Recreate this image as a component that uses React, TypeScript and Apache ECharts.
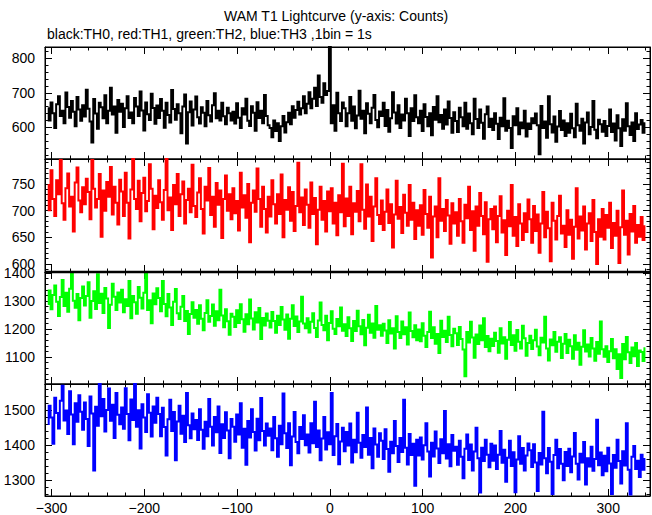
import React, { useEffect, useRef } from "react";
import * as echarts from "echarts";

// time bins (seconds from trigger), 2 s sampling of the 1 s lightcurve
const T_START = -304;
const T_STEP = 2;

// TH0 (black)
const th0 = [
  655, 620, 672, 641, 598, 667, 690, 633, 648, 612, 701, 659, 628, 676, 645, 603, 688, 652, 619, 664,
  631, 709, 654, 617, 556, 682, 640, 596, 671, 658, 626, 693, 612, 648, 715, 637, 660, 584, 679, 645,
  668, 601, 655, 690, 627, 643, 612, 685, 660, 633, 704, 649, 591, 672, 638, 621, 697, 656, 610, 663,
  627, 682, 648, 599, 671, 636, 614, 708, 653, 622, 667, 641, 583, 660, 695, 553, 644, 675, 605, 652,
  689, 629, 611, 658, 642, 603, 676, 635, 617, 664, 699, 626, 648, 620, 671, 632, 609, 657, 641, 620,
  645, 611, 670, 628, 598, 655, 637, 683, 619, 604, 661, 642, 590, 673, 627, 648, 612, 694, 633, 606,
  598, 571, 620, 589, 612, 560, 603, 633, 585, 615, 642, 609, 661, 628, 650, 674, 637, 655, 690, 641,
  668, 702, 655, 683, 715, 662, 750, 688, 671, 728, 694, 705, 833, 612, 664, 590, 700, 641, 618, 672,
  655, 603, 641, 688, 619, 660, 597, 634, 706, 625, 648, 583, 670, 639, 612, 657, 694, 621, 600, 646,
  633, 671, 604, 650, 587, 626, 702, 643, 611, 664, 598, 637, 620, 683, 641, 575, 655, 618, 693, 629,
  612, 648, 589, 667, 630, 603, 641, 577, 659, 622, 690, 615, 636, 596, 652, 608, 675, 627, 584, 644,
  618, 586, 657, 629, 603, 671, 596, 640, 612, 580, 683, 624, 598, 652, 613, 567, 638, 660, 601, 625,
  592, 641, 610, 566, 628, 603, 684, 590, 619, 598, 540, 632, 606, 655, 580, 614, 597, 648, 573, 611,
  595, 626, 612, 640, 606, 522, 662, 598, 617, 570, 690, 609, 585, 631, 558, 602, 647, 592, 620, 575,
  612, 584, 639, 597, 571, 668, 606, 590, 625, 553, 614, 643, 580, 601, 676, 593, 568, 622, 609, 587,
  618, 575, 604, 652, 586, 611, 562, 635, 597, 546, 623, 590, 670, 603, 578, 614, 560, 641, 595, 608,
  621, 584, 612,
];

// TH1 (red)
const th1 = [
  748, 701, 776, 722, 690, 757, 731, 795, 714, 683, 742, 770, 708, 726, 661, 753, 781, 719, 697, 744,
  712, 760, 735, 684, 795, 741, 706, 722, 769, 651, 738, 700, 754, 726, 782, 693, 745, 715, 674, 758,
  736, 690, 771, 715, 648, 740, 797, 722, 703, 756, 680, 733, 762, 699, 718, 787, 741, 665, 728, 705,
  757, 716, 683, 739, 797, 701, 725, 664, 748, 712, 769, 690, 731, 755, 676, 720, 741, 697, 786, 709,
  688, 734, 761, 703, 657, 745, 719, 780, 692, 726, 670, 752, 711, 738, 649, 722, 766, 700, 731, 684,
  742, 695, 718, 663, 771, 706, 729, 687, 750, 641, 715, 738, 698, 779, 722, 670, 745, 703, 659, 726,
  689, 757, 712, 676, 731, 694, 768, 650, 720, 702, 744, 681, 735, 662, 709, 790, 697, 725, 673, 740,
  711, 668, 753, 694, 724, 637, 702, 745, 683, 718, 661, 736, 699, 742, 676, 715, 654, 729, 697, 788,
  671, 723, 690, 745, 656, 714, 698, 737, 680, 787, 702, 666, 749, 689, 726, 643, 708, 761, 692, 675,
  719, 664, 698, 740, 677, 712, 631, 693, 756, 685, 707, 658, 730, 696, 672, 748, 683, 715, 647, 701,
  672, 710, 655, 739, 694, 668, 726, 612, 689, 708, 650, 761, 681, 703, 662, 720, 691, 638, 714, 676,
  697, 653, 722, 680, 640, 711, 686, 745, 664, 699, 625, 708, 672, 733, 690, 656, 716, 604, 684, 703,
  665, 708, 641, 690, 727, 659, 682, 617, 700, 671, 748, 653, 688, 634, 712, 676, 645, 695, 660, 721,
  684, 640, 709, 662, 693, 621, 676, 735, 650, 698, 667, 605, 715, 681, 646, 690, 728, 657, 672, 632,
  701, 655, 683, 610, 670, 742, 648, 689, 663, 708, 627, 676, 695, 643, 720, 660, 600, 684, 651, 703,
  646, 692, 668, 715, 630, 677, 653, 700, 602, 669, 738, 655, 681, 618, 694, 661, 709, 640, 673, 651,
  688, 645, 671,
];

// TH2 (green)
const th2 = [
  1290, 1338, 1271, 1322, 1356, 1298, 1247, 1315, 1375, 1283, 1330, 1262, 1344, 1399, 1301, 1276, 1325, 1232, 1311, 1352,
  1284, 1318, 1367, 1241, 1300, 1335, 1272, 1396, 1293, 1326, 1258, 1347, 1309, 1204, 1287, 1362, 1316, 1268, 1331, 1295,
  1341, 1260, 1307, 1283, 1372, 1239, 1318, 1296, 1255, 1350, 1312, 1274, 1330, 1399, 1268, 1303, 1221, 1327, 1289, 1346,
  1311, 1264, 1372, 1290, 1246, 1325, 1277, 1215, 1298, 1343, 1257, 1236, 1280, 1318, 1229, 1265, 1183, 1254, 1296, 1241,
  1268, 1219, 1285, 1237, 1196, 1258, 1303, 1226, 1247, 1288, 1212, 1264, 1232, 1341, 1249, 1207, 1271, 1228, 1180, 1255,
  1244, 1208, 1267, 1222, 1289, 1235, 1191, 1253, 1217, 1306, 1238, 1199, 1260, 1224, 1275, 1165, 1240, 1213, 1256, 1230,
  1206, 1261, 1229, 1187, 1248, 1215, 1279, 1234, 1198, 1252, 1166, 1237, 1285, 1211, 1245, 1190, 1227, 1316, 1220, 1203,
  1239, 1188, 1226, 1257, 1204, 1172, 1231, 1295, 1215, 1196, 1248, 1160, 1222, 1264, 1201, 1183, 1236, 1210, 1277, 1194,
  1217, 1175, 1242, 1203, 1158, 1229, 1193, 1266, 1210, 1182, 1233, 1142, 1205, 1251, 1187, 1220, 1169, 1283, 1198, 1214,
  1176, 1219, 1195, 1150, 1232, 1184, 1203, 1131, 1246, 1190, 1168, 1227, 1182, 1207, 1145, 1259, 1193, 1171, 1214, 1160,
  1199, 1157, 1221, 1176, 1136, 1190, 1262, 1168, 1207, 1148, 1183, 1115, 1230, 1172, 1194, 1154, 1244, 1179, 1139, 1201,
  1185, 1143, 1208, 1165, 1127, 1032, 1190, 1152, 1226, 1170, 1098, 1181, 1147, 1213, 1160, 1239, 1136, 1175, 1121, 1166,
  1140, 1187, 1158, 1116, 1203, 1149, 1171, 1094, 1162, 1225, 1143, 1178, 1123, 1197, 1155, 1131, 1212, 1167, 1105, 1150,
  1176, 1129, 1160, 1198, 1138, 1107, 1169, 1152, 1244, 1131, 1088, 1163, 1142, 1190, 1119, 1155, 1171, 1097, 1148, 1183,
  1115, 1162, 1139, 1094, 1178, 1126, 1151, 1073, 1137, 1196, 1120, 1145, 1102, 1168, 1131, 1087, 1154, 1112, 1227, 1128,
  1101, 1139, 1083, 1121, 1165, 1096, 1128, 1058, 1110, 1025, 1147, 1092, 1172, 1117, 1079, 1134, 1103, 1150, 1068, 1124,
  1118, 1086, 1132,
];

// TH3 (blue)
const th3 = [
  1460, 1512, 1478, 1403, 1535, 1491, 1447, 1526, 1569, 1470, 1498, 1431, 1553, 1487, 1402, 1519, 1466, 1542, 1495, 1443,
  1521, 1474, 1397, 1538, 1490, 1327, 1509, 1455, 1574, 1482, 1531, 1438, 1500, 1561, 1469, 1515, 1420, 1548, 1486, 1459,
  1507, 1446, 1562, 1488, 1413, 1530, 1471, 1574, 1452, 1499, 1390, 1516, 1478, 1437, 1545, 1492, 1424, 1510, 1463, 1535,
  1488, 1425, 1506, 1451, 1370, 1473, 1529, 1440, 1494, 1356, 1467, 1512, 1432, 1483, 1408, 1548, 1456, 1419, 1490, 1445,
  1471, 1414, 1502, 1443, 1389, 1466, 1425, 1531, 1452, 1398, 1480, 1436, 1510, 1377, 1459, 1420, 1493, 1441, 1362, 1474,
  1452, 1409, 1487, 1430, 1519, 1392, 1446, 1343, 1468, 1421, 1502, 1437, 1384, 1475, 1413, 1534, 1440, 1398, 1461, 1426,
  1447, 1385, 1480, 1419, 1366, 1455, 1402, 1547, 1433, 1391, 1462, 1342, 1424, 1494, 1408, 1376, 1451, 1417, 1485, 1399,
  1430, 1378, 1462, 1405, 1523, 1394, 1441, 1356, 1418, 1480, 1387, 1436, 1402, 1548, 1371, 1425, 1460, 1345, 1410, 1449,
  1382, 1437, 1398, 1461, 1350, 1415, 1379, 1492, 1406, 1363, 1428, 1394, 1507, 1372, 1420, 1333, 1447, 1401, 1366, 1433,
  1412, 1360, 1445, 1388, 1323, 1409, 1376, 1468, 1397, 1351, 1420, 1380, 1529, 1392, 1344, 1431, 1371, 1403, 1283, 1415,
  1370, 1421, 1358, 1399, 1462, 1381, 1310, 1406, 1367, 1438, 1390, 1348, 1416, 1376, 1497, 1361, 1402, 1339, 1428, 1383,
  1395, 1343, 1412, 1366, 1305, 1389, 1430, 1357, 1401, 1327, 1381, 1449, 1362, 1264, 1392, 1354, 1415, 1372, 1336, 1403,
  1355, 1398, 1331, 1372, 1440, 1349, 1386, 1295, 1363, 1412, 1340, 1379, 1265, 1358, 1425, 1346, 1391, 1327, 1370, 1404,
  1385, 1337, 1402, 1350, 1268, 1377, 1344, 1495, 1362, 1319, 1391, 1352, 1260, 1371, 1415, 1333, 1388, 1346, 1299, 1380,
  1340, 1389, 1322, 1367, 1434, 1346, 1301, 1375, 1350, 1408, 1287, 1362, 1338, 1395, 1326, 1360, 1472, 1342, 1378, 1313,
  1369, 1325, 1392, 1347, 1260, 1371, 1335, 1415, 1354, 1290, 1382, 1341, 1462, 1329, 1258, 1366, 1397, 1331, 1355, 1308,
  1372, 1329, 1360,
];

const TITLE = "WAM T1 Lightcurve (y-axis: Counts)";
const SUBTITLE = "black:TH0, red:TH1, green:TH2, blue:TH3 ,1bin = 1s";

const X_MIN = -307;
const X_MAX = 345;
const X_INTERVAL = 100;
const Y_MINS = [508, 585, 1004, 1254];
const Y_MAXS = [833, 797, 1404, 1574];
const Y_INTERVALS = [100, 50, 100, 100];
const COLORS = ["#000000", "#ff0000", "#00ff00", "#0000ff"];
const PANEL_TOPS = [47, 159, 272, 384];
const PANEL_HEIGHTS = [112, 113, 112, 112];
const PLOT_LEFT = 45;
const PLOT_RIGHT = 650;

const FONT = "'Liberation Sans', Arial, Helvetica, sans-serif";

export default function App() {
  const ref = useRef<HTMLDivElement>(null);
  useEffect(() => {
    const chart = echarts.init(ref.current!, null, { renderer: "svg" });
    const allSeries = [th0, th1, th2, th3];
    const minus = (v: number) => String(v).replace("-", "\u2212");
    const plain = (v: number) => String(v);

    const tickCommon = {
      axisTick: { show: true, inside: true, length: 7, lineStyle: { color: "#000", width: 1 } },
      minorTick: { show: true, splitNumber: 5, length: 3.5, lineStyle: { color: "#000", width: 1 } },
      axisLine: { show: true, onZero: false, lineStyle: { color: "#000", width: 1 } },
      splitLine: { show: false },
    };

    const grids = PANEL_TOPS.map((top, i) => ({
      left: PLOT_LEFT,
      right: 652 - PLOT_RIGHT,
      top,
      height: PANEL_HEIGHTS[i],
      show: true,
      borderColor: "#000",
      borderWidth: 1,
      backgroundColor: "transparent",
    }));

    const xAxes: any[] = [];
    const yAxes: any[] = [];
    PANEL_TOPS.forEach((_, i) => {
      xAxes.push({
        type: "value",
        gridIndex: i,
        position: "bottom",
        min: X_MIN,
        max: X_MAX,
        minInterval: X_INTERVAL,
        maxInterval: X_INTERVAL,
        ...tickCommon,
        axisLabel: {
          show: i === 3,
          showMinLabel: false,
          showMaxLabel: false,
          margin: 5,
          color: "#000",
          fontSize: 14,
          fontFamily: FONT,
          formatter: minus,
        },
      });
      xAxes.push({
        type: "value",
        gridIndex: i,
        position: "top",
        min: X_MIN,
        max: X_MAX,
        minInterval: X_INTERVAL,
        maxInterval: X_INTERVAL,
        ...tickCommon,
        axisLabel: { show: false },
      });
      yAxes.push({
        type: "value",
        gridIndex: i,
        position: "left",
        min: Y_MINS[i],
        max: Y_MAXS[i],
        minInterval: Y_INTERVALS[i],
        maxInterval: Y_INTERVALS[i],
        ...tickCommon,
        axisLabel: {
          show: true,
          showMinLabel: false,
          showMaxLabel: false,
          margin: 10,
          color: "#000",
          fontSize: 14,
          fontFamily: FONT,
          hideOverlap: false,
          formatter: plain,
        },
      });
      yAxes.push({
        type: "value",
        gridIndex: i,
        position: "right",
        min: Y_MINS[i],
        max: Y_MAXS[i],
        minInterval: Y_INTERVALS[i],
        maxInterval: Y_INTERVALS[i],
        ...tickCommon,
        axisLabel: { show: false },
      });
    });

    const series = allSeries.map((vals, i) => ({
      type: "line",
      xAxisIndex: 2 * i,
      yAxisIndex: 2 * i,
      data: vals.map((v, k) => [T_START + k * T_STEP, v]),
      step: "middle",
      showSymbol: false,
      symbol: "none",
      clip: true,
      lineStyle: { color: COLORS[i], width: 2, join: "miter", cap: "butt" },
      silent: true,
    }));

    chart.setOption({
      animation: false,
      backgroundColor: "#ffffff",
      title: [
        {
          text: TITLE,
          left: 224,
          top: 9,
          padding: 0,
          textStyle: { fontSize: 14, fontWeight: "normal", color: "#000", fontFamily: FONT },
        },
        {
          text: SUBTITLE,
          left: 47,
          top: 27,
          padding: 0,
          textStyle: { fontSize: 14, fontWeight: "normal", color: "#000", fontFamily: FONT },
        },
      ],
      grid: grids,
      xAxis: xAxes,
      yAxis: yAxes,
      series,
      graphic: [
        {
          type: "line",
          z: 100,
          silent: true,
          shape: { x1: PLOT_LEFT, y1: PANEL_TOPS[2], x2: PLOT_RIGHT, y2: PANEL_TOPS[2] },
          style: { stroke: "#000", lineWidth: 2.5 },
        },
      ],
    });
    return () => chart.dispose();
  }, []);
  return (
    <div
      ref={ref}
      style={{ position: "absolute", left: 0, top: 0, width: 652, height: 515, background: "#fff" }}
    />
  );
}
